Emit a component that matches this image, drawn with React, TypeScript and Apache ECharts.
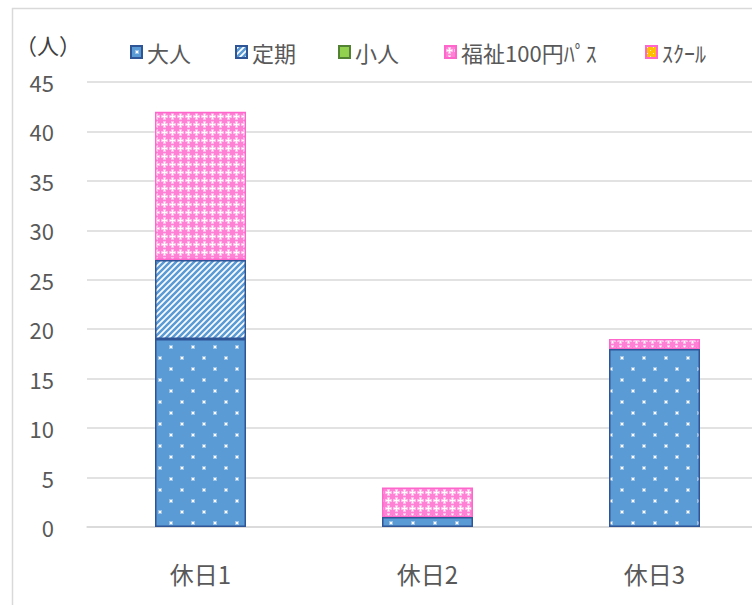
import React, { useEffect, useRef } from "react";
import * as echarts from "echarts";

const categories = ["休日1", "休日2", "休日3"];
const seriesNames = ["大人", "定期", "小人", "福祉100円ﾊﾟｽ", "ｽｸｰﾙ"];
const adultValues = [19, 1, 18];
const teikiValues = [8, 0, 0];
const childValues = [0, 0, 0];
const welfareValues = [15, 3, 1];
const schoolValues = [0, 0, 0];
const yTicks = [0, 5, 10, 15, 20, 25, 30, 35, 40, 45];

const FONT = "'Noto Sans CJK JP', 'Noto Sans', sans-serif";
const legendLefts = [125, 230, 333, 439, 640];

function makeCanvas(w: number, h: number, draw: (ctx: CanvasRenderingContext2D) => void) {
  const c = document.createElement("canvas");
  c.width = w;
  c.height = h;
  const ctx = c.getContext("2d") as CanvasRenderingContext2D;
  draw(ctx);
  return c;
}

export default function App() {
  const ref = useRef<HTMLDivElement>(null);
  useEffect(() => {
    if (!ref.current) return;
    const chart = echarts.init(ref.current, undefined, { renderer: "svg" });

    const dots = makeCanvas(22, 22, (ctx) => {
      ctx.fillStyle = "#5B9BD5";
      ctx.fillRect(0, 0, 22, 22);
      ctx.fillStyle = "rgba(255,255,255,0.4)";
      ctx.fillRect(4, 4, 4, 4);
      ctx.fillRect(15, 15, 4, 4);
      ctx.fillStyle = "#ffffff";
      ctx.fillRect(5, 5, 2, 2);
      ctx.fillRect(16, 16, 2, 2);
    });
    const stripes = makeCanvas(6, 6, (ctx) => {
      ctx.fillStyle = "#ffffff";
      ctx.fillRect(0, 0, 6, 6);
      ctx.strokeStyle = "#5B9BD5";
      ctx.lineWidth = 2.6;
      ctx.beginPath();
      ctx.moveTo(-1, 7); ctx.lineTo(7, -1);
      ctx.moveTo(-4, 4); ctx.lineTo(4, -4);
      ctx.moveTo(2, 10); ctx.lineTo(10, 2);
      ctx.stroke();
    });
    const cross = makeCanvas(8, 8, (ctx) => {
      ctx.fillStyle = "#FF80D4";
      ctx.fillRect(0, 0, 8, 8);
      ctx.fillStyle = "#FFBDEA";
      ctx.fillRect(3, 1, 3, 7);
      ctx.fillRect(1, 3, 7, 3);
      ctx.fillStyle = "#ffffff";
      ctx.fillRect(4, 2, 1, 5);
      ctx.fillRect(2, 4, 5, 1);
    });
    const school = makeCanvas(6, 6, (ctx) => {
      ctx.fillStyle = "#FFC000";
      ctx.fillRect(0, 0, 6, 6);
      ctx.fillStyle = "#FFF2CC";
      ctx.fillRect(1, 1, 1, 1);
      ctx.fillRect(4, 4, 1, 1);
    });

    const nz = (arr: number[]) => arr.map((v) => (v === 0 ? "-" : v));

    const mk = (name: string, data: number[], color: any, border: string) => ({
      name,
      type: "bar",
      stack: "total",
      barWidth: 91,
      data: nz(data),
      itemStyle: { color, borderColor: border, borderWidth: 1.5 },
    });

    chart.setOption({
      animation: false,
      textStyle: { fontFamily: FONT },
      graphic: [
        {
          type: "rect",
          shape: { x: 12.5, y: 8.5, width: 900, height: 800 },
          style: { fill: "none", stroke: "#D9D9D9", lineWidth: 1.5 },
          silent: true,
        },
        {
          type: "text",
          x: 15,
          y: 44,
          style: {
            text: "（人）",
            font: `22px ${FONT}`,
            fill: "#404040",
            verticalAlign: "middle",
          },
        },
      ],
      legend: seriesNames.map((n, i) => ({
        left: legendLefts[i],
        top: 36,
        itemWidth: 11,
        itemHeight: 12,
        icon: "rect",
        textStyle: { fontSize: 22, color: "#595959", fontFamily: FONT },
        data: [n],
      })),
      grid: { left: 87, right: 0, top: 82, bottom: 78 },
      xAxis: {
        type: "category",
        data: categories,
        axisLine: { lineStyle: { color: "#D9D9D9", width: 1.5 } },
        axisTick: { show: false },
        axisLabel: { fontSize: 24, color: "#595959", margin: 34, fontFamily: FONT },
      },
      yAxis: {
        type: "value",
        min: yTicks[0],
        max: yTicks[yTicks.length - 1],
        interval: 5,
        axisLine: { show: false },
        axisTick: { show: false },
        splitLine: { lineStyle: { color: "#D9D9D9", width: 1.5 } },
        axisLabel: { fontSize: 22, color: "#595959", margin: 33, fontFamily: FONT },
      },
      series: [
        mk(seriesNames[0], adultValues, { image: dots, repeat: "repeat" }, "#2F5597"),
        mk(seriesNames[1], teikiValues, { image: stripes, repeat: "repeat" }, "#2F5597"),
        mk(seriesNames[2], childValues, "#92D050", "#548235"),
        mk(seriesNames[3], welfareValues, { image: cross, repeat: "repeat" }, "#FF66CC"),
        mk(seriesNames[4], schoolValues, { image: school, repeat: "repeat" }, "#FF66CC"),
      ],
    });
    return () => chart.dispose();
  }, []);
  return (
    <div style={{ position: "absolute", left: 0, top: 0, width: 752, height: 605, overflow: "hidden", background: "#fff" }}>
      <div ref={ref} style={{ width: 768, height: 605 }} />
    </div>
  );
}
